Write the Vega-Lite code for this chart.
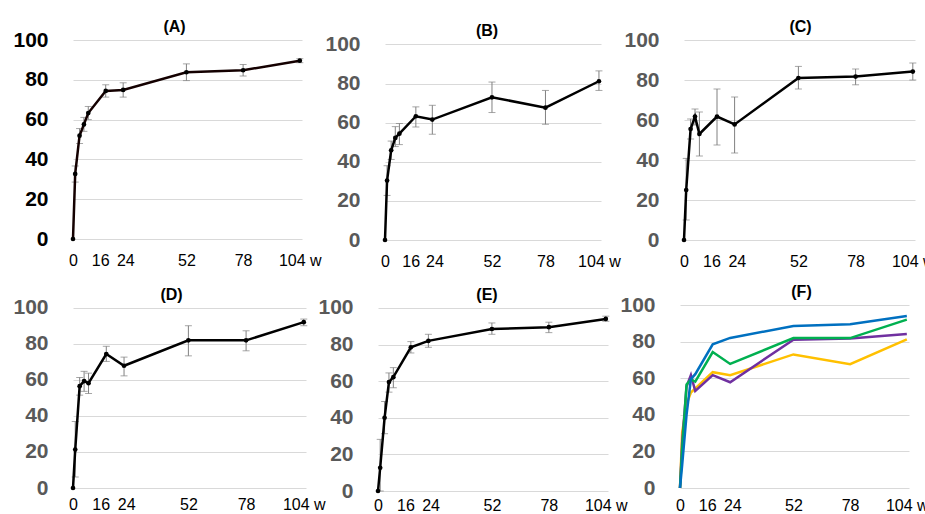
{
  "$schema": "https://vega.github.io/schema/vega-lite/v6.json",
  "padding": {"left": 12, "top": 19, "right": 2, "bottom": 2},
  "config": {
    "view": {"stroke": null},
    "font": "Liberation Sans",
    "title": {"fontSize": 16, "fontWeight": "bold", "color": "#000000", "font": "Liberation Sans", "offset": 8, "dy": 14, "anchor": "middle", "frame": "group"},
    "axisX": {"grid": false, "domain": false, "ticks": false, "tickSize": 0, "labelPadding": 13, "labelFontSize": 16, "labelColor": "#000000", "labelFlush": false, "labelOverlap": false, "labelFont": "Liberation Sans"},
    "axisY": {"grid": true, "gridColor": "#d9d9d9", "gridWidth": 1, "domain": false, "ticks": false, "tickSize": 0, "labelPadding": 25, "labelFontSize": 21, "labelFontWeight": "bold", "labelColor": "#595959", "labelFont": "Liberation Sans", "labelOverlap": false}
  },
  "datasets": {
    "d": [
      {"panel": "A", "week": 0, "value": 0},
      {"panel": "A", "week": 1, "value": 32.7, "lo": 28.6, "hi": 36.7},
      {"panel": "A", "week": 3, "value": 51.9, "lo": 48.0, "hi": 55.5},
      {"panel": "A", "week": 5, "value": 57.6, "lo": 54.1, "hi": 61.1},
      {"panel": "A", "week": 7, "value": 63.3, "lo": 60.0, "hi": 66.6},
      {"panel": "A", "week": 15, "value": 74.4, "lo": 71.3, "hi": 77.5},
      {"panel": "A", "week": 23, "value": 74.9, "lo": 71.3, "hi": 78.5},
      {"panel": "A", "week": 52, "value": 83.8, "lo": 79.6, "hi": 88.0},
      {"panel": "A", "week": 78, "value": 84.8, "lo": 81.9, "hi": 87.7},
      {"panel": "A", "week": 104, "value": 89.6, "lo": 88.6, "hi": 90.6},
      {"panel": "B", "week": 0, "value": 0},
      {"panel": "B", "week": 1, "value": 30.4, "lo": 22.8, "hi": 38.0},
      {"panel": "B", "week": 3, "value": 45.9, "lo": 41.2, "hi": 50.6},
      {"panel": "B", "week": 5, "value": 52.2, "lo": 47.8, "hi": 58.0},
      {"panel": "B", "week": 7, "value": 54.4, "lo": 48.8, "hi": 59.6},
      {"panel": "B", "week": 15, "value": 63.3, "lo": 57.8, "hi": 68.1},
      {"panel": "B", "week": 23, "value": 61.6, "lo": 54.1, "hi": 68.9},
      {"panel": "B", "week": 52, "value": 73.0, "lo": 65.2, "hi": 80.8},
      {"panel": "B", "week": 78, "value": 67.7, "lo": 59.2, "hi": 76.5},
      {"panel": "B", "week": 104, "value": 81.2, "lo": 76.5, "hi": 86.5},
      {"panel": "C", "week": 0, "value": 0},
      {"panel": "C", "week": 1, "value": 25.0, "lo": 10.0, "hi": 40.8},
      {"panel": "C", "week": 3, "value": 55.5, "lo": 50.5, "hi": 60.5},
      {"panel": "C", "week": 5, "value": 61.7, "lo": 57.5, "hi": 65.5},
      {"panel": "C", "week": 7, "value": 53.0, "lo": 42.0, "hi": 64.0},
      {"panel": "C", "week": 15, "value": 61.7, "lo": 47.5, "hi": 75.5},
      {"panel": "C", "week": 23, "value": 57.8, "lo": 43.5, "hi": 71.5},
      {"panel": "C", "week": 52, "value": 81.0, "lo": 75.5, "hi": 86.8},
      {"panel": "C", "week": 78, "value": 81.7, "lo": 77.6, "hi": 85.5},
      {"panel": "C", "week": 104, "value": 84.2, "lo": 80.0, "hi": 88.5},
      {"panel": "D", "week": 0, "value": 0},
      {"panel": "D", "week": 1, "value": 21.3, "lo": 6.1, "hi": 36.9},
      {"panel": "D", "week": 3, "value": 56.5, "lo": 51.5, "hi": 61.3},
      {"panel": "D", "week": 5, "value": 59.3, "lo": 53.6, "hi": 64.7},
      {"panel": "D", "week": 7, "value": 58.1, "lo": 52.4, "hi": 63.7},
      {"panel": "D", "week": 15, "value": 74.3, "lo": 70.2, "hi": 78.6},
      {"panel": "D", "week": 23, "value": 67.8, "lo": 62.2, "hi": 72.6},
      {"panel": "D", "week": 52, "value": 81.9, "lo": 73.3, "hi": 90.0},
      {"panel": "D", "week": 78, "value": 81.9, "lo": 76.1, "hi": 87.2},
      {"panel": "D", "week": 104, "value": 92.0, "lo": 90.0, "hi": 93.7},
      {"panel": "E", "week": 0, "value": 0},
      {"panel": "E", "week": 1, "value": 12.7, "lo": 0, "hi": 28.2},
      {"panel": "E", "week": 3, "value": 40.0, "lo": 31.3, "hi": 48.9},
      {"panel": "E", "week": 5, "value": 59.5, "lo": 54.0, "hi": 64.5},
      {"panel": "E", "week": 7, "value": 62.2, "lo": 56.4, "hi": 67.4},
      {"panel": "E", "week": 15, "value": 78.5, "lo": 75.4, "hi": 81.6},
      {"panel": "E", "week": 23, "value": 82.0, "lo": 78.5, "hi": 85.6},
      {"panel": "E", "week": 52, "value": 88.5, "lo": 85.6, "hi": 91.8},
      {"panel": "E", "week": 78, "value": 89.5, "lo": 86.5, "hi": 92.2},
      {"panel": "E", "week": 104, "value": 94.0, "lo": 92.7, "hi": 95.5}
    ]
  },
  "spacing": 15,
  "vconcat": [
    {
      "bounds": "flush",
      "spacing": 83,
      "hconcat": [
        {
          "width": 229, "height": 199,
          "title": {"text": "(A)", "dx": -13},
          "data": {"name": "d"},
          "transform": [{"filter": "datum.panel == 'A'"}],
          "encoding": {
            "x": {"field": "week", "type": "quantitative", "scale": {"domain": [0, 105], "nice": false, "zero": false}, "axis": {"title": null, "values": [0, 12.5, 24, 52, 78, 104], "labelExpr": "datum.value == 12.5 ? '16' : datum.value == 104 ? '104 w' : datum.label"}},
            "y": {"field": "value", "type": "quantitative", "scale": {"domain": [0, 100], "nice": false}, "axis": {"title": null, "values": [0, 20, 40, 60, 80, 100], "labelColor": "#000000"}}
          },
          "layer": [
            {"transform": [{"filter": "isValid(datum.lo)"}], "mark": {"type": "rule", "color": "#808080", "strokeWidth": 1}, "encoding": {"y": {"field": "lo", "type": "quantitative"}, "y2": {"field": "hi"}}},
            {"transform": [{"filter": "isValid(datum.lo)"}], "mark": {"type": "tick", "orient": "horizontal", "color": "#808080", "size": 7, "thickness": 1}, "encoding": {"y": {"field": "lo", "type": "quantitative"}}},
            {"transform": [{"filter": "isValid(datum.lo)"}], "mark": {"type": "tick", "orient": "horizontal", "color": "#808080", "size": 7, "thickness": 1}, "encoding": {"y": {"field": "hi", "type": "quantitative"}}},
            {"mark": {"type": "line", "color": "#140000", "strokeWidth": 2.5}},
            {"mark": {"type": "point", "filled": true, "color": "#000000", "size": 22, "opacity": 1}}
          ]
        },
        {
          "width": 216, "height": 200,
          "title": {"text": "(B)", "dx": -6},
          "data": {"name": "d"},
          "transform": [{"filter": "datum.panel == 'B'"}],
          "encoding": {
            "x": {"field": "week", "type": "quantitative", "scale": {"domain": [0, 105], "nice": false, "zero": false}, "axis": {"title": null, "values": [0, 12.5, 24, 52, 78, 104], "labelExpr": "datum.value == 12.5 ? '16' : datum.value == 104 ? '104 w' : datum.label"}},
            "y": {"field": "value", "type": "quantitative", "scale": {"domain": [0, 102.3], "nice": false}, "axis": {"title": null, "values": [0, 20, 40, 60, 80, 100]}}
          },
          "layer": [
            {"transform": [{"filter": "isValid(datum.lo)"}], "mark": {"type": "rule", "color": "#808080", "strokeWidth": 1}, "encoding": {"y": {"field": "lo", "type": "quantitative"}, "y2": {"field": "hi"}}},
            {"transform": [{"filter": "isValid(datum.lo)"}], "mark": {"type": "tick", "orient": "horizontal", "color": "#808080", "size": 7, "thickness": 1}, "encoding": {"y": {"field": "lo", "type": "quantitative"}}},
            {"transform": [{"filter": "isValid(datum.lo)"}], "mark": {"type": "tick", "orient": "horizontal", "color": "#808080", "size": 7, "thickness": 1}, "encoding": {"y": {"field": "hi", "type": "quantitative"}}},
            {"mark": {"type": "line", "color": "#000000", "strokeWidth": 2.5}},
            {"mark": {"type": "point", "filled": true, "color": "#000000", "size": 22, "opacity": 1}}
          ]
        },
        {
          "width": 231, "height": 200,
          "title": {"text": "(C)", "dx": 1},
          "data": {"name": "d"},
          "transform": [{"filter": "datum.panel == 'C'"}],
          "encoding": {
            "x": {"field": "week", "type": "quantitative", "scale": {"domain": [0, 105], "nice": false, "zero": false}, "axis": {"title": null, "values": [0, 12.5, 24, 52, 78, 104], "labelExpr": "datum.value == 12.5 ? '16' : datum.value == 104 ? '104 w' : datum.label"}},
            "y": {"field": "value", "type": "quantitative", "scale": {"domain": [0, 100], "nice": false}, "axis": {"title": null, "values": [0, 20, 40, 60, 80, 100]}}
          },
          "layer": [
            {"transform": [{"filter": "isValid(datum.lo)"}], "mark": {"type": "rule", "color": "#808080", "strokeWidth": 1}, "encoding": {"y": {"field": "lo", "type": "quantitative"}, "y2": {"field": "hi"}}},
            {"transform": [{"filter": "isValid(datum.lo)"}], "mark": {"type": "tick", "orient": "horizontal", "color": "#808080", "size": 7, "thickness": 1}, "encoding": {"y": {"field": "lo", "type": "quantitative"}}},
            {"transform": [{"filter": "isValid(datum.lo)"}], "mark": {"type": "tick", "orient": "horizontal", "color": "#808080", "size": 7, "thickness": 1}, "encoding": {"y": {"field": "hi", "type": "quantitative"}}},
            {"mark": {"type": "line", "color": "#000000", "strokeWidth": 2.5}},
            {"mark": {"type": "point", "filled": true, "color": "#000000", "size": 22, "opacity": 1}}
          ]
        }
      ]
    },
    {
      "bounds": "flush",
      "spacing": 72,
      "hconcat": [
        {
          "width": 233, "height": 183,
          "title": {"text": "(D)", "dx": -18},
          "data": {"name": "d"},
          "transform": [{"filter": "datum.panel == 'D'"}],
          "encoding": {
            "x": {"field": "week", "type": "quantitative", "scale": {"domain": [0, 105], "nice": false, "zero": false}, "axis": {"title": null, "labelPadding": 8, "values": [0, 12.5, 24, 52, 78, 104], "labelExpr": "datum.value == 12.5 ? '16' : datum.value == 104 ? '104 w' : datum.label"}},
            "y": {"field": "value", "type": "quantitative", "scale": {"domain": [0, 101.5], "nice": false}, "axis": {"title": null, "values": [0, 20, 40, 60, 80, 100]}}
          },
          "layer": [
            {"transform": [{"filter": "isValid(datum.lo)"}], "mark": {"type": "rule", "color": "#808080", "strokeWidth": 1}, "encoding": {"y": {"field": "lo", "type": "quantitative"}, "y2": {"field": "hi"}}},
            {"transform": [{"filter": "isValid(datum.lo)"}], "mark": {"type": "tick", "orient": "horizontal", "color": "#808080", "size": 7, "thickness": 1}, "encoding": {"y": {"field": "lo", "type": "quantitative"}}},
            {"transform": [{"filter": "isValid(datum.lo)"}], "mark": {"type": "tick", "orient": "horizontal", "color": "#808080", "size": 7, "thickness": 1}, "encoding": {"y": {"field": "hi", "type": "quantitative"}}},
            {"mark": {"type": "line", "color": "#000000", "strokeWidth": 2.5}},
            {"mark": {"type": "point", "filled": true, "color": "#000000", "size": 22, "opacity": 1}}
          ]
        },
        {
          "width": 230, "height": 186,
          "title": {"text": "(E)", "dx": -6},
          "data": {"name": "d"},
          "transform": [{"filter": "datum.panel == 'E'"}],
          "encoding": {
            "x": {"field": "week", "type": "quantitative", "scale": {"domain": [0, 105], "nice": false, "zero": false}, "axis": {"title": null, "labelPadding": 6, "values": [0, 12.5, 24, 52, 78, 104], "labelExpr": "datum.value == 12.5 ? '16' : datum.value == 104 ? '104 w' : datum.label"}},
            "y": {"field": "value", "type": "quantitative", "scale": {"domain": [0, 101.6], "nice": false}, "axis": {"title": null, "values": [0, 20, 40, 60, 80, 100]}}
          },
          "layer": [
            {"transform": [{"filter": "isValid(datum.lo)"}], "mark": {"type": "rule", "color": "#808080", "strokeWidth": 1}, "encoding": {"y": {"field": "lo", "type": "quantitative"}, "y2": {"field": "hi"}}},
            {"transform": [{"filter": "isValid(datum.lo)"}], "mark": {"type": "tick", "orient": "horizontal", "color": "#808080", "size": 7, "thickness": 1}, "encoding": {"y": {"field": "lo", "type": "quantitative"}}},
            {"transform": [{"filter": "isValid(datum.lo)"}], "mark": {"type": "tick", "orient": "horizontal", "color": "#808080", "size": 7, "thickness": 1}, "encoding": {"y": {"field": "hi", "type": "quantitative"}}},
            {"mark": {"type": "line", "color": "#000000", "strokeWidth": 2.5}},
            {"mark": {"type": "point", "filled": true, "color": "#000000", "size": 22, "opacity": 1}}
          ]
        },
        {
          "width": 229, "height": 183,
          "title": {"text": "(F)", "dx": 7},
          "data": {"name": "d"},
          "transform": [{"filter": "datum.panel != 'A'"}],
          "mark": {"type": "line", "strokeWidth": 2.5},
          "encoding": {
            "x": {"field": "week", "type": "quantitative", "scale": {"domain": [0, 105], "nice": false, "zero": false}, "axis": {"title": null, "labelPadding": 9, "values": [0, 12.5, 24, 52, 78, 104], "labelExpr": "datum.value == 12.5 ? '16' : datum.value == 104 ? '104 w' : datum.label"}},
            "y": {"field": "value", "type": "quantitative", "scale": {"domain": [0, 100], "nice": false}, "axis": {"title": null, "values": [0, 20, 40, 60, 80, 100]}},
            "color": {"field": "panel", "type": "nominal", "scale": {"domain": ["B", "C", "D", "E"], "range": ["#FFC000", "#7030A0", "#00B050", "#0070C0"]}, "legend": null}
          }
        }
      ]
    }
  ]
}
